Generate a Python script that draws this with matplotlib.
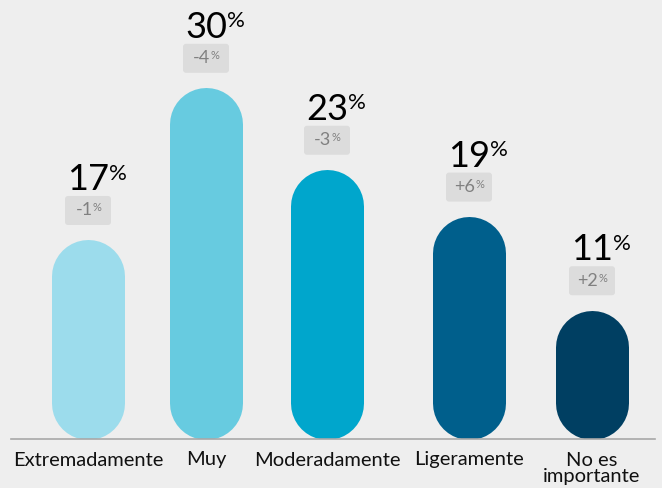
import matplotlib
matplotlib.use('Agg')
import matplotlib.pyplot as plt
from matplotlib.patches import FancyBboxPatch

# Datos
categorias = ['Extremadamente', 'Muy', 'Moderadamente', 'Ligeramente', 'No es\nimportante']
valores = [17, 30, 23, 19, 11]
cambios = ['-1', '-4', '-3', '+6', '+2']
colores = ['#9cdcec', '#67cbe0', '#00a6cc', '#005f8c', '#003f62']

# Layout (en píxeles dentro del eje)
xpos = [77, 195, 316, 458, 581]
ancho = 73
fondo = '#eeeeee'

plt.rcParams['font.family'] = ['Lato', 'DejaVu Sans']

fig = plt.figure(figsize=(6.62, 4.88), dpi=100, facecolor=fondo)
ax = fig.add_axes([11 / 662, 49 / 488, 644 / 662, 439 / 488])
ax.set_facecolor(fondo)
ymax = 37.5
ax.set_xlim(0, 644)
ax.set_ylim(0, ymax)
py = ymax / 439  # unidades de y por pixel
r = ancho / 2 * py  # radio de los extremos en unidades de y

for x, v, c, d in zip(xpos, valores, colores, cambios):
    # barra tipo píldora: línea gruesa con extremos redondeados
    ax.plot([x, x], [r, v - r], color=c, lw=ancho * 72 / 100,
            solid_capstyle='round', zorder=2)

    # caja gris con la variación
    caja = FancyBboxPatch((x - 23, v + 15 * py), 46, 29 * py,
                          boxstyle="round,pad=0,rounding_size=3",
                          mutation_aspect=py, facecolor='#dcdcdc', edgecolor='none')
    ax.add_patch(caja)
    t2 = ax.text(x - 4, v + 29.5 * py, d, ha='center', va='center',
                 fontsize=13, color='#808080')
    ax.annotate('%', xy=(1, 1), xycoords=t2, xytext=(0, 0),
                textcoords='offset points', ha='left', va='top',
                fontsize=8, color='#808080')

    # porcentaje grande
    t = ax.text(x, v + 50 * py, str(v), ha='center', va='baseline',
                fontsize=26, color='#000000')
    ax.annotate('%', xy=(1, 1), xycoords=t, xytext=(0, -0.5),
                textcoords='offset points', ha='left', va='top',
                fontsize=16, color='#000000')

ax.set_xticks(xpos)
ax.set_xticklabels(categorias, fontsize=14.5, color='#111111', linespacing=0.95)
ax.tick_params(axis='x', length=0, pad=9)
ax.set_yticks([])
for s in ['top', 'left', 'right']:
    ax.spines[s].set_visible(False)
ax.spines['bottom'].set_color('#a8a8a8')
ax.spines['bottom'].set_linewidth(1.2)

fig.savefig('out.png', dpi=100, facecolor=fondo)
